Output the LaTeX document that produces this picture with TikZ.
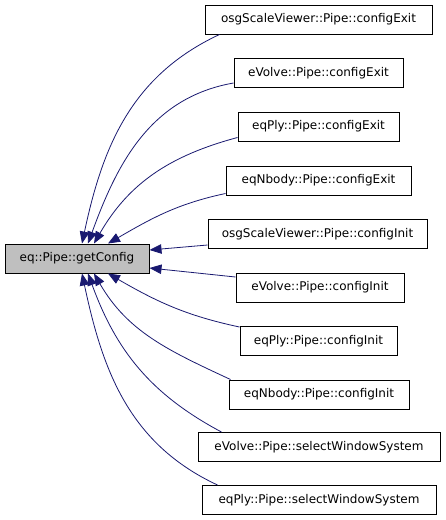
\documentclass[tikz,border=0pt]{standalone}
\usepackage{fontspec}
\setmainfont{DejaVu Sans}
\usetikzlibrary{arrows.meta}
\definecolor{edgeblue}{HTML}{191970}
\definecolor{boxgray}{HTML}{BFBFBF}
\begin{document}
\begin{tikzpicture}[x=1pt,y=1pt,
  box/.style={draw=black, line width=1pt, fill=white, minimum height=29pt, inner sep=0pt, font=\fontsize{12}{14}\selectfont},
  edge/.style={draw=edgeblue, line width=0.8pt, -{Triangle[length=12pt,width=9.5pt]}}]
\useasboundingbox (0,0) rectangle (445,-520);
\node[box, fill=boxgray, minimum width=144pt] (l) at (77,-258.5) {eq::Pipe::getConfig};
\node[box, minimum width=227pt] (r1) at (318.5,-19.5) {osgScaleViewer::Pipe::configExit};
\node[box, minimum width=169pt] (r2) at (318.5,-73) {eVolve::Pipe::configExit};
\node[box, minimum width=161pt] (r3) at (318.5,-126.5) {eqPly::Pipe::configExit};
\node[box, minimum width=185pt] (r4) at (318.5,-180.5) {eqNbody::Pipe::configExit};
\node[box, minimum width=219pt] (r5) at (317.5,-234) {osgScaleViewer::Pipe::configInit};
\node[box, minimum width=168pt] (r6) at (320,-287.5) {eVolve::Pipe::configInit};
\node[box, minimum width=157pt] (r7) at (318.5,-341) {eqPly::Pipe::configInit};
\node[box, minimum width=180pt] (r8) at (319,-394.5) {eqNbody::Pipe::configInit};
\node[box, minimum width=242pt] (r9) at (319,-447) {eVolve::Pipe::selectWindowSystem};
\node[box, minimum width=234pt] (r10) at (319,-500) {eqPly::Pipe::selectWindowSystem};
% edges to top of left node
\draw[edge] ([xshift=15pt]r1.south west) to[out=205, in=78] ([xshift=5pt]l.north);
\draw[edge] ([yshift=-10pt]r2.west) to[out=190, in=70] ([xshift=11pt]l.north);
\draw[edge] ([yshift=-11pt]r3.west) to[out=195, in=60] ([xshift=17pt]l.north);
\draw[edge] ([yshift=2pt]r4.south west) to[out=192, in=30] ([xshift=31pt]l.north);
\draw[edge] ([yshift=-11pt]r5.west) -- ([yshift=8.5pt]l.east);
\draw[edge] ([yshift=10.5pt]r6.west) -- ([yshift=-9.5pt]l.east);
\draw[edge] ([yshift=-1pt]r7.north west) to[out=168, in=-30] ([xshift=31pt]l.south);
\draw[edge] ([xshift=2pt]r8.north west) to[out=155, in=-60] ([xshift=17pt]l.south);
\draw[edge] ([xshift=24pt]r9.north west) to[out=152, in=-70] ([xshift=11pt]l.south);
\draw[edge] ([xshift=16pt]r10.north west) to[out=155, in=-78] ([xshift=5pt]l.south);
\end{tikzpicture}
\end{document}
